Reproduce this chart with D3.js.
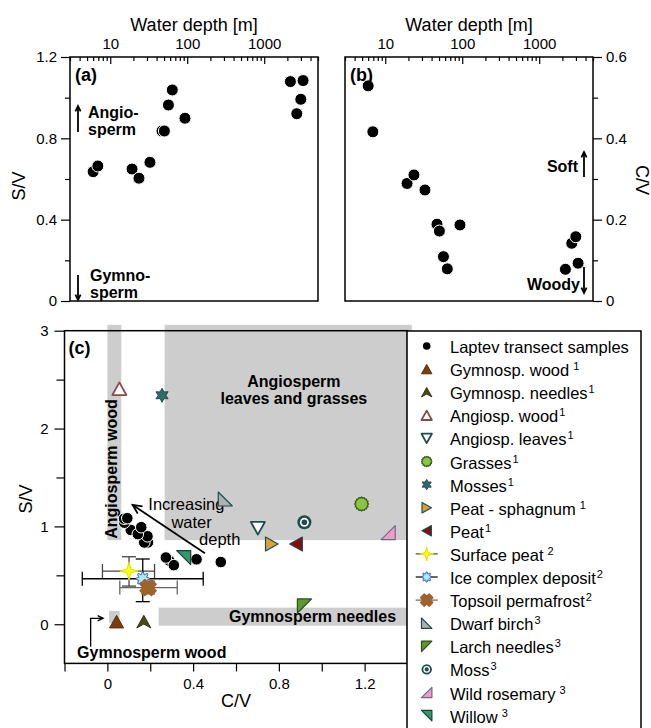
<!DOCTYPE html>
<html>
<head>
<meta charset="utf-8">
<script src="https://cdn.jsdelivr.net/npm/d3@7"></script>
<style>
body { margin: 0; background: #fff; }
svg { display: block; font-family: "Liberation Sans", Arial, sans-serif; }
</style>
</head>
<body>
<script>
// Laptev transect samples (same stations in a, b and c)
var depth = [6.0, 6.9, 19.2, 23.6, 32.8, 47, 50.5, 57, 64, 93.5, 2190, 2650, 2990, 3200];
var sv = [0.636, 0.664, 0.649, 0.604, 0.682, 0.836, 0.836, 0.964, 1.038, 0.899, 1.079, 0.921, 0.992, 1.084];
var cv = [0.529, 0.416, 0.289, 0.310, 0.273, 0.189, 0.172, 0.109, 0.079, 0.187, 0.078, 0.142, 0.158, 0.093];

// reference materials in (c)
var refNames = ["Gymnosp. wood", "Gymnosp. needles", "Angiosp. wood", "Angiosp. leaves", "Grasses", "Mosses",
    "Peat - sphagnum", "Peat", "Surface peat", "Ice complex deposit", "Topsoil permafrost", "Dwarf birch",
    "Larch needles", "Moss", "Wild rosemary", "Willow"];
var refSup = ["1", "1", "1", "1", "1", "1", "1", "1", "2", "2", "2", "3", "3", "3", "3", "3"];
var refCV = [0.043, 0.170, 0.056, 0.702, 1.186, 0.255, 0.767, 0.880, 0.101, 0.165, 0.190, 0.550, 0.919, 0.919, 1.310, 0.356];
var refSV = [0.027, 0.027, 2.407, 0.981, 1.229, 2.340, 0.820, 0.820, 0.544, 0.465, 0.375, 1.280, 0.187, 1.042, 0.936, 0.681];

// error bars
var errNames = ["Surface peat", "Ice complex deposit", "Topsoil permafrost"];
var errCV = [[-0.023, 0.220], [-0.117, 0.447], [0.058, 0.326]];
var errSV = [[0.39, 0.69], [0.231, 0.667], [0.31, 0.44]];

// axis ticks
var depthMajor = [10, 100, 1000];
var svMajorA = [0, 0.4, 0.8, 1.2], svMinorA = [0.2, 0.6, 1.0];
var cvMajorB = [0, 0.2, 0.4, 0.6], cvMinorB = [0.1, 0.3, 0.5];
var cvMajorC = [0, 0.4, 0.8, 1.2], cvMinorC = [-0.2, 0.2, 0.6, 1.0, 1.4];
var svMajorC = [0, 1, 2, 3], svMinorC = [0.5, 1.5, 2.5];

var styles = {
    "Gymnosp. wood":       {shape: "up", fill: "#7a3e0c", stroke: "#5c2e08"},
    "Gymnosp. needles":    {shape: "chevron", fill: "#4a4a16", stroke: "#33330f"},
    "Angiosp. wood":       {shape: "up", fill: "#fff", stroke: "#8b4a4a", sw: 1.8},
    "Angiosp. leaves":     {shape: "down", fill: "#fff", stroke: "#1e4d4d", sw: 1.8},
    "Grasses":             {shape: "spiky", fill: "#8cc63f", stroke: "#2e5e1e", sw: 1.2},
    "Mosses":              {shape: "star6", fill: "#2e6b6b", stroke: "#1e4d4d"},
    "Peat - sphagnum":     {shape: "right", fill: "#d9a03c", stroke: "#1e4d4d", sw: 1.2},
    "Peat":                {shape: "left", fill: "#8b0a0a", stroke: "#1e4d4d", sw: 1.2},
    "Surface peat":        {shape: "star4", fill: "#ffff00", stroke: "#e0e000"},
    "Ice complex deposit": {shape: "flower", fill: "#a8ecff", stroke: "#3048c0", sw: 1},
    "Topsoil permafrost":  {shape: "xcross", fill: "#a0622d", stroke: "#a0622d", sw: 1.5},
    "Dwarf birch":         {shape: "cornerBL", fill: "#b0b0b0", stroke: "#1e4d4d", sw: 1.2},
    "Larch needles":       {shape: "cornerTL", fill: "#5c9a2e", stroke: "#2e4e1e", sw: 1.2},
    "Moss":                {shape: "bullseye", fill: "#1e4d4d"},
    "Wild rosemary":       {shape: "cornerBR", fill: "#f59ac8", stroke: "#6a6a8a", sw: 1.2},
    "Willow":              {shape: "cornerTR", fill: "#2e9a6a", stroke: "#1e3d3d", sw: 1.2}
};
var errColor = {"Surface peat": "#444", "Ice complex deposit": "#000", "Topsoil permafrost": "#666"};
var gapSup = {"Gymnosp. wood": 1, "Peat - sphagnum": 1, "Surface peat": 1, "Wild rosemary": 1, "Willow": 1};

var W = 651, H = 728, FONT = 15, TITLE = 18;
var svg = d3.select("body").append("svg").attr("width", W).attr("height", H);

var pa = {x: 70, y: 57, w: 248, h: 244};
var pb = {x: 345, y: 57, w: 248, h: 244};
var pc = {x: 64.5, y: 330.7, w: 343, h: 332.7};

var xa = d3.scaleLog().domain([3, 5000]).range([pa.x, pa.x + pa.w]);
var ya = d3.scaleLinear().domain([0, 1.2]).range([pa.y + pa.h, pa.y]);
var xb = d3.scaleLog().domain([3, 5000]).range([pb.x, pb.x + pb.w]);
var yb = d3.scaleLinear().domain([0, 0.6]).range([pb.y + pb.h, pb.y]);
var xc = d3.scaleLinear().domain([-0.2, 1.4]).range([pc.x, pc.x + pc.w]);
var yc = d3.scaleLinear().domain([-0.4, 3]).range([pc.y + pc.h, pc.y]);

function numFmt(d) { return d === 0 ? "0" : (Math.round(d) === d ? String(d) : d3.format(".1f")(d)); }

function axis(g, ax) {
    g.call(ax);
    g.select(".domain").remove();
    g.attr("font-family", null).attr("font-size", FONT);
    g.selectAll("line").attr("stroke", "#000").attr("stroke-width", 1.2);
    g.selectAll("text").attr("fill", "#000");
    return g;
}

function logMinor(scale) {
    var d = scale.domain(), out = [];
    [1, 10, 100, 1000].forEach(function(b) {
        for (var k = 2; k <= 9; k++) {
            var v = b * k;
            if (v >= d[0] && v <= d[1]) out.push(v);
        }
    });
    return out;
}

function poly(pts) {
    return "M" + pts.map(function(p) { return p[0].toFixed(2) + "," + p[1].toFixed(2); }).join("L") + "Z";
}
function radial(n, rFn) {
    var pts = [];
    for (var i = 0; i < n; i++) {
        var a = -Math.PI / 2 + i * 2 * Math.PI / n;
        var r = rFn(i, a);
        pts.push([r * Math.cos(a), r * Math.sin(a)]);
    }
    return poly(pts);
}
function shapePath(type, s) {
    var h = 0.9 * s;
    switch (type) {
        case "up": return poly([[0, -h], [s, h], [-s, h]]);
        case "down": return poly([[0, h], [s, -h], [-s, -h]]);
        case "right": return poly([[h, 0], [-h, -s], [-h, s]]);
        case "left": return poly([[-h, 0], [h, -s], [h, s]]);
        case "chevron": return poly([[0, -h], [s, h], [0, 0.35 * s], [-s, h]]);
        case "cornerBL": return poly([[-s, -s], [s, s], [-s, s]]);
        case "cornerTL": return poly([[-s, -s], [s, -s], [-s, s]]);
        case "cornerBR": return poly([[s, -s], [s, s], [-s, s]]);
        case "cornerTR": return poly([[-s, -s], [s, -s], [s, s]]);
        case "star6": return radial(12, function(i) { return i % 2 ? s * 0.55 : s; });
        case "star4": return radial(8, function(i) { return i % 2 ? s * 0.33 : s * 1.15; });
        case "flower": return radial(64, function(i, a) { return s * (0.8 + 0.2 * Math.cos(8 * (a + Math.PI / 2))); });
        case "spiky": return radial(32, function(i) { return i % 2 ? s * 0.84 : s; });
        case "xcross":
            var w = 0.42 * s, c = Math.SQRT1_2;
            var pl = [[w, -s], [w, -w], [s, -w], [s, w], [w, w], [w, s], [-w, s], [-w, w], [-s, w], [-s, -w], [-w, -w], [-w, -s]];
            return poly(pl.map(function(p) { return [(p[0] - p[1]) * c, (p[0] + p[1]) * c]; }));
    }
}

function drawMarker(g, name, x, y, s) {
    var st = styles[name];
    var m = g.append("g").attr("transform", "translate(" + x + "," + y + ")");
    if (st.shape === "bullseye") {
        m.append("circle").attr("r", s).attr("fill", st.fill);
        m.append("circle").attr("r", s * 0.64).attr("fill", "#fff");
        m.append("circle").attr("r", s * 0.4).attr("fill", st.fill);
    } else {
        m.append("path").attr("d", shapePath(st.shape, s))
            .attr("fill", st.fill).attr("stroke", st.stroke)
            .attr("stroke-width", st.sw || 1).attr("stroke-linejoin", "round");
    }
}

function arrowLine(g, x1, y1, x2, y2, len, sw) {
    var a = Math.atan2(y2 - y1, x2 - x1), sp = 0.45;
    g.append("line").attr("x1", x1).attr("y1", y1).attr("x2", x2).attr("y2", y2)
        .attr("stroke", "#000").attr("stroke-width", sw);
    g.append("path").attr("fill", "none").attr("stroke", "#000").attr("stroke-width", sw)
        .attr("d", "M" + (x2 - len * Math.cos(a - sp)) + "," + (y2 - len * Math.sin(a - sp)) +
            "L" + x2 + "," + y2 + "L" + (x2 - len * Math.cos(a + sp)) + "," + (y2 - len * Math.sin(a + sp)));
}

function boldText(g, x, y, txt, size, anchor) {
    return g.append("text").attr("x", x).attr("y", y).attr("font-weight", "bold")
        .attr("font-size", size).attr("text-anchor", anchor || "start").text(txt);
}

// ---------- panel (a) ----------
var ga = svg.append("g");
axis(ga.append("g").attr("transform", "translate(0," + pa.y + ")"),
    d3.axisTop(xa).tickValues(depthMajor).tickSize(-7).tickPadding(8).tickFormat(d3.format("d")));
axis(ga.append("g").attr("transform", "translate(0," + pa.y + ")"),
    d3.axisTop(xa).tickValues(logMinor(xa)).tickSize(-4).tickFormat(""));
axis(ga.append("g").attr("transform", "translate(" + pa.x + ",0)"),
    d3.axisLeft(ya).tickValues(svMajorA).tickSize(9).tickPadding(4).tickFormat(numFmt));
axis(ga.append("g").attr("transform", "translate(" + pa.x + ",0)"),
    d3.axisLeft(ya).tickValues(svMinorA).tickSize(5).tickFormat(""));
ga.append("rect").attr("x", pa.x).attr("y", pa.y).attr("width", pa.w).attr("height", pa.h)
    .attr("fill", "none").attr("stroke", "#000").attr("stroke-width", 1.5);
ga.selectAll("circle.s").data(depth).join("circle").attr("class", "s")
    .attr("cx", function(d) { return xa(d); }).attr("cy", function(d, i) { return ya(sv[i]); })
    .attr("r", 6).attr("fill", "#000").attr("stroke", "#fff").attr("stroke-width", 1);
ga.append("text").attr("x", pa.x + pa.w / 2).attr("y", 31).attr("text-anchor", "middle")
    .attr("font-size", TITLE).text("Water depth [m]");
ga.append("text").attr("transform", "translate(25,186) rotate(-90)").attr("text-anchor", "middle")
    .attr("font-size", TITLE).text("S/V");
boldText(ga, pa.x + 5, 81, "(a)", 18);
boldText(ga, pa.x + 18, 118, "Angio-", 16);
boldText(ga, pa.x + 18, 135, "sperm", 16);
arrowLine(ga, pa.x + 8, 132, pa.x + 8, 106, 6, 1.8);
boldText(ga, pa.x + 20, 281, "Gymno-", 16);
boldText(ga, pa.x + 20, 298, "sperm", 16);
arrowLine(ga, pa.x + 8, 275, pa.x + 8, 300, 6, 1.8);

// ---------- panel (b) ----------
var gb = svg.append("g");
axis(gb.append("g").attr("transform", "translate(0," + pb.y + ")"),
    d3.axisTop(xb).tickValues(depthMajor).tickSize(-7).tickPadding(8).tickFormat(d3.format("d")));
axis(gb.append("g").attr("transform", "translate(0," + pb.y + ")"),
    d3.axisTop(xb).tickValues(logMinor(xb)).tickSize(-4).tickFormat(""));
axis(gb.append("g").attr("transform", "translate(" + (pb.x + pb.w) + ",0)"),
    d3.axisRight(yb).tickValues(cvMajorB).tickSize(9).tickPadding(4).tickFormat(numFmt));
axis(gb.append("g").attr("transform", "translate(" + (pb.x + pb.w) + ",0)"),
    d3.axisRight(yb).tickValues(cvMinorB).tickSize(5).tickFormat(""));
gb.append("rect").attr("x", pb.x).attr("y", pb.y).attr("width", pb.w).attr("height", pb.h)
    .attr("fill", "none").attr("stroke", "#000").attr("stroke-width", 1.5);
gb.selectAll("circle.s").data(depth).join("circle").attr("class", "s")
    .attr("cx", function(d) { return xb(d); }).attr("cy", function(d, i) { return yb(cv[i]); })
    .attr("r", 6).attr("fill", "#000").attr("stroke", "#fff").attr("stroke-width", 1);
gb.append("text").attr("x", pb.x + pb.w / 2).attr("y", 31).attr("text-anchor", "middle")
    .attr("font-size", TITLE).text("Water depth [m]");
gb.append("text").attr("transform", "translate(636,180) rotate(90)").attr("text-anchor", "middle")
    .attr("font-size", TITLE).text("C/V");
boldText(gb, pb.x + 5, 81, "(b)", 18);
boldText(gb, 578, 172, "Soft", 16, "end");
arrowLine(gb, 584, 177, 584, 152, 6, 1.8);
boldText(gb, 580, 290, "Woody", 16, "end");
arrowLine(gb, 584, 267, 584, 293, 6, 1.8);

// ---------- panel (c) ----------
var gc = svg.append("g");
var boxes = [
    {x0: 0, x1: 0.065, y0: 0.86, y1: 3.06},
    {x0: 0.267, x1: 1.42, y0: 0.86, y1: 3.06},
    {x0: 0.239, x1: 1.405, y0: -0.015, y1: 0.17},
    {x0: 0.008, x1: 0.057, y0: 0.01, y1: 0.136}
];
gc.selectAll("rect.box").data(boxes).join("rect").attr("class", "box")
    .attr("x", function(d) { return xc(d.x0); }).attr("y", function(d) { return yc(d.y1); })
    .attr("width", function(d) { return xc(d.x1) - xc(d.x0); })
    .attr("height", function(d) { return yc(d.y0) - yc(d.y1); })
    .attr("fill", "#cdcdcd");

axis(gc.append("g").attr("transform", "translate(" + pc.x + ",0)"),
    d3.axisLeft(yc).tickValues(svMajorC).tickSize(10).tickPadding(6).tickFormat(numFmt));
axis(gc.append("g").attr("transform", "translate(" + pc.x + ",0)"),
    d3.axisLeft(yc).tickValues(svMinorC).tickSize(8).tickFormat(""));
axis(gc.append("g").attr("transform", "translate(0," + (pc.y + pc.h) + ")"),
    d3.axisBottom(xc).tickValues(cvMajorC).tickSize(8).tickPadding(7).tickFormat(numFmt));
axis(gc.append("g").attr("transform", "translate(0," + (pc.y + pc.h) + ")"),
    d3.axisBottom(xc).tickValues(cvMinorC).tickSize(8).tickFormat(""));

gc.append("text").attr("x", xc(0.6)).attr("y", 707).attr("text-anchor", "middle")
    .attr("font-size", TITLE).text("C/V");
gc.append("text").attr("transform", "translate(31.5,499) rotate(-90)").attr("text-anchor", "middle")
    .attr("font-size", TITLE).text("S/V");
boldText(gc, pc.x + 4, 354, "(c)", 18);
boldText(gc, xc(0.87), yc(2.425), "Angiosperm", 16, "middle");
boldText(gc, xc(0.87), yc(2.251), "leaves and grasses", 16, "middle");
gc.append("text").attr("transform", "translate(" + xc(0.045) + "," + yc(1.587) + ") rotate(-90)")
    .attr("text-anchor", "middle").attr("font-weight", "bold").attr("font-size", 16).text("Angiosperm wood");
boldText(gc, xc(0.957), yc(0.027), "Gymnosperm needles", 16, "middle");
boldText(gc, xc(0.207), yc(-0.347), "Gymnosperm wood", 16, "middle");
gc.append("text").attr("x", xc(0.191)).attr("y", yc(1.168)).attr("font-size", 16.5).text("Increasing");
gc.append("text").attr("x", xc(0.393)).attr("y", yc(0.981)).attr("font-size", 16.5).attr("text-anchor", "middle").text("water");
gc.append("text").attr("x", xc(0.524)).attr("y", yc(0.81)).attr("font-size", 16.5).attr("text-anchor", "middle").text("depth");
arrowLine(gc, xc(0.455), yc(0.725), xc(0.118), yc(1.219), 10, 1.8);
// elbow arrow to gymnosperm wood
gc.append("path").attr("fill", "none").attr("stroke", "#000").attr("stroke-width", 1.3)
    .attr("d", "M" + xc(-0.078) + "," + yc(-0.229) + "V" + yc(0.061) + "H" + xc(-0.03));
arrowLine(gc, xc(-0.04), yc(0.061), xc(-0.02), yc(0.061), 6, 1.3);

// error bars
errNames.forEach(function(n, k) {
    var i = refNames.indexOf(n), col = errColor[n];
    var cx0 = xc(refCV[i]), cy0 = yc(refSV[i]);
    var x0 = xc(errCV[k][0]), x1 = xc(errCV[k][1]), y0 = yc(errSV[k][0]), y1 = yc(errSV[k][1]);
    var e = gc.append("g").attr("stroke", col).attr("stroke-width", 1.3);
    e.append("line").attr("x1", x0).attr("x2", x1).attr("y1", cy0).attr("y2", cy0);
    e.append("line").attr("x1", x0).attr("x2", x0).attr("y1", cy0 - 7).attr("y2", cy0 + 7);
    e.append("line").attr("x1", x1).attr("x2", x1).attr("y1", cy0 - 7).attr("y2", cy0 + 7);
    e.append("line").attr("x1", cx0).attr("x2", cx0).attr("y1", y0).attr("y2", y1);
    e.append("line").attr("x1", cx0 - 7).attr("x2", cx0 + 7).attr("y1", y0).attr("y2", y0);
    e.append("line").attr("x1", cx0 - 7).attr("x2", cx0 + 7).attr("y1", y1).attr("y2", y1);
});

// laptev samples
gc.selectAll("circle.s").data(cv).join("circle").attr("class", "s")
    .attr("cx", function(d) { return xc(d); }).attr("cy", function(d, i) { return yc(sv[i]); })
    .attr("r", 5.8).attr("fill", "#000").attr("stroke", "#fff").attr("stroke-width", 1);

// reference markers
refNames.forEach(function(n, i) {
    var s = styles[n].shape === "star4" ? 8 : (styles[n].shape === "xcross" ? 8 : 7);
    drawMarker(gc, n, xc(refCV[i]), yc(refSV[i]), s);
});

// plot frame
gc.append("rect").attr("x", pc.x).attr("y", pc.y).attr("width", pc.w).attr("height", pc.h)
    .attr("fill", "none").attr("stroke", "#000").attr("stroke-width", 1.5);

// legend
var lg = svg.append("g");
lg.append("rect").attr("x", 407).attr("y", 331).attr("width", 234).attr("height", 430)
    .attr("fill", "#fff").attr("stroke", "#000").attr("stroke-width", 1.5);
var legNames = ["Laptev transect samples"].concat(refNames);
var legSup = [""].concat(refSup);
legNames.forEach(function(n, i) {
    var y = 346 + 23.1 * i, mx = 426.7;
    if (i === 0) {
        lg.append("circle").attr("cx", mx).attr("cy", y).attr("r", 3.8).attr("fill", "#000");
    } else {
        if (errColor[n]) {
            lg.append("line").attr("x1", mx - 11).attr("x2", mx + 11).attr("y1", y).attr("y2", y)
                .attr("stroke", errColor[n]).attr("stroke-width", 1.2);
        }
        drawMarker(lg, n, mx, y, styles[n].shape === "star4" || styles[n].shape === "xcross" ? 6 : 5.2);
    }
    var t = lg.append("text").attr("x", 450).attr("y", y + 7).attr("font-size", 16.5).text(n);
    if (legSup[i]) {
        t.append("tspan").attr("dx", gapSup[n] ? 4 : 1).attr("dy", -6).attr("font-size", 11).text(legSup[i]);
    }
});
</script>
</body>
</html>
